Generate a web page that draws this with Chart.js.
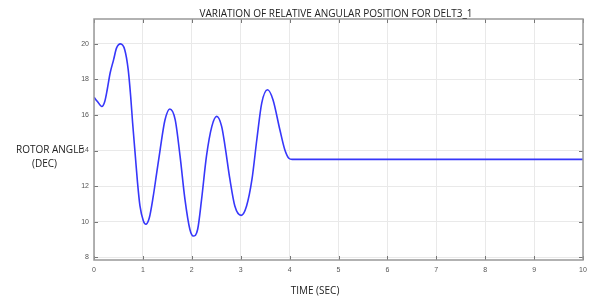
<!DOCTYPE html>
<html>
<head>
<meta charset="utf-8">
<script src="https://cdn.jsdelivr.net/npm/chart.js@4.4.1/dist/chart.umd.min.js"></script>
<style>
  html, body { margin: 0; padding: 0; background: #fff; }
  #wrap { width: 596px; height: 297px; position: relative; }
</style>
</head>
<body>
<div id="wrap"><canvas id="rotorChart" width="596" height="297"></canvas></div>
<script>
// values
const timeSec = [0, 0.07, 0.16, 0.22, 0.27, 0.33, 0.40, 0.46, 0.54, 0.63, 0.70, 0.75, 0.79, 0.84, 0.89, 0.94, 1.01, 1.06,
  1.13, 1.21, 1.28, 1.35, 1.45, 1.55, 1.66, 1.76, 1.86, 1.96, 2.03, 2.12, 2.20, 2.30, 2.41, 2.51, 2.61, 2.68, 2.78, 2.88, 3.01,
  3.12, 3.23, 3.33, 3.43, 3.55, 3.66, 3.80, 3.90, 3.99, 4.05, 5, 6, 7, 8, 9, 10];
const rotorAngle = [17.0, 16.76, 16.48, 16.76, 17.42, 18.36, 19.1, 19.76, 20.0, 19.66, 18.54, 17.05, 15.55, 13.87, 12.19, 10.88, 10.03, 9.85,
  10.2, 11.4, 12.7, 14.0, 15.7, 16.34, 15.74, 13.68, 11.25, 9.57, 9.19, 9.57, 11.25, 13.68, 15.36, 15.92, 15.36, 14.24, 12.37, 10.88, 10.35,
  10.88, 12.37, 14.62, 16.67, 17.42, 16.86, 15.18, 14.06, 13.55, 13.5, 13.5, 13.5, 13.5, 13.5, 13.5, 13.5];
const xTicks = [0, 1, 2, 3, 4, 5, 6, 7, 8, 9, 10];
const yTicks = [8, 10, 12, 14, 16, 18, 20];
const chartTitle = "VARIATION OF RELATIVE ANGULAR POSITION FOR DELT3_1";
const yTitle = ["ROTOR ANGLE", "(DEC)"];
const xTitle = "TIME (SEC)";

const points = timeSec.map((t, i) => ({ x: t, y: rotorAngle[i] }));

// MATLAB-like inward ticks on all four sides + text labels
const extras = {
  id: 'extras',
  afterDraw(chart) {
    const ctx = chart.ctx;
    const a = chart.chartArea;
    const xs = chart.scales.x, ys = chart.scales.y;
    ctx.save();
    ctx.strokeStyle = '#777';
    ctx.lineWidth = 1;
    ctx.beginPath();
    xTicks.forEach(v => {
      const px = Math.round(xs.getPixelForValue(v)) + 0.5;
      ctx.moveTo(px, a.bottom); ctx.lineTo(px, a.bottom - 4);
      ctx.moveTo(px, a.top); ctx.lineTo(px, a.top + 4);
    });
    yTicks.forEach(v => {
      const py = Math.round(ys.getPixelForValue(v)) + 0.5;
      ctx.moveTo(a.left, py); ctx.lineTo(a.left + 4, py);
      ctx.moveTo(a.right, py); ctx.lineTo(a.right - 4, py);
    });
    ctx.stroke();
    ctx.strokeStyle = '#999';
    ctx.lineWidth = 1.5;
    ctx.strokeRect(a.left, a.top, a.right - a.left, a.bottom - a.top);

    ctx.fillStyle = '#222';
    ctx.font = '10px "Open Sans"';
    ctx.textAlign = 'center';
    ctx.textBaseline = 'alphabetic';
    ctx.fillText(chartTitle, 336, 17);
    ctx.textAlign = 'left';
    ctx.fillText(yTitle[0], 16, 153);
    ctx.fillText(yTitle[1], 32, 167);
    ctx.textAlign = 'center';
    ctx.fillText(xTitle, 315, 294);
    ctx.restore();
  }
};

const ctx = document.getElementById('rotorChart').getContext('2d');
new Chart(ctx, {
  type: 'line',
  data: {
    datasets: [{
      data: points,
      borderColor: 'rgb(55, 55, 250)',
      borderWidth: 1.6,
      pointRadius: 0,
      cubicInterpolationMode: 'monotone',
      fill: false
    }]
  },
  options: {
    responsive: false,
    animation: false,
    layout: { padding: { top: 19, right: 13, left: 0, bottom: 0 } },
    plugins: { legend: { display: false }, tooltip: { enabled: false } },
    scales: {
      x: {
        type: 'linear',
        min: 0, max: 10,
        afterBuildTicks: s => { s.ticks = xTicks.map(v => ({ value: v })); },
        afterFit: s => { s.height = 37; },
        grid: { color: '#e9e9e9', drawTicks: false },
        border: { display: false },
        ticks: { color: '#555', font: { size: 7, family: 'Liberation Sans' }, padding: 6, maxRotation: 0 }
      },
      y: {
        type: 'linear',
        min: 7.84, max: 21.4,
        afterBuildTicks: s => { s.ticks = yTicks.map(v => ({ value: v })); },
        afterFit: s => { s.width = 94; },
        grid: { color: '#e9e9e9', drawTicks: false },
        border: { display: false },
        ticks: { color: '#555', font: { size: 7, family: 'Liberation Sans' }, padding: 5 }
      }
    }
  },
  plugins: [extras]
});
</script>
</body>
</html>
